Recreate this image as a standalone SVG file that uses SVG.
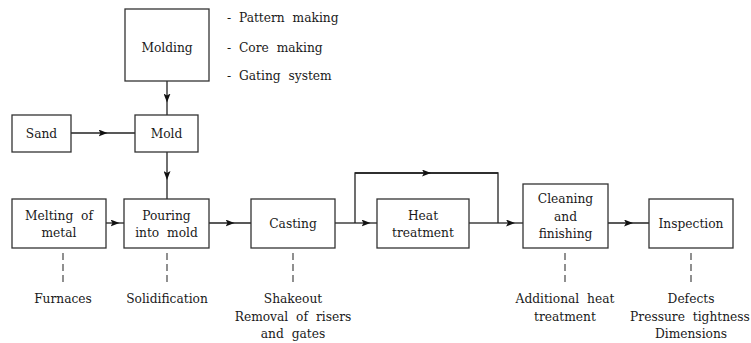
<svg xmlns="http://www.w3.org/2000/svg" width="751" height="343" viewBox="0 0 751 343">
<defs>
<style>
.box{fill:#fff;stroke:#333;stroke-width:1.3}
.ln{fill:none;stroke:#222;stroke-width:1.3}
.ar{fill:none;stroke:#222;stroke-width:1.3;marker-mid:url(#ah)}
.dash{fill:none;stroke:#555;stroke-width:1.3;stroke-dasharray:7,4}
.t{font-family:"DejaVu Serif Condensed","DejaVu Serif",serif;font-stretch:condensed;font-size:13.6px;fill:#1a1a1a;word-spacing:4px}
.c{text-anchor:middle}
</style>
<marker id="ah" viewBox="0 0 9 7" markerWidth="9" markerHeight="7" refX="4.5" refY="3.5" orient="auto" markerUnits="userSpaceOnUse">
<path d="M0,0 L9,3.5 L0,7 L2,3.5 z" fill="#111"/>
</marker>
</defs>
<rect width="751" height="343" fill="#fff"/>
<g id="connectors">
<path class="ar" d="M167,81 L167,98 L167,115"/>
<path class="ar" d="M71,133 L103,133 L135,133"/>
<path class="ar" d="M167,152 L167,175.5 L167,199"/>
<path class="ar" d="M106,223 L115,223 L124,223"/>
<path class="ar" d="M209,223 L230,223 L251,223"/>
<path class="ln" d="M335,223 L355,223"/>
<path class="ar" d="M355,223 L366,223 L377,223"/>
<path class="ln" d="M355,223 L355,173 L498,173 L498,223"/>
<path class="ar" d="M355,173 L426.5,173 L498,173"/>
<path class="ln" d="M469,223 L498,223"/>
<path class="ar" d="M498,223 L510.5,223 L523,223"/>
<path class="ar" d="M608,223 L628.5,223 L649,223"/>
<path class="dash" d="M63,253 L63,284"/>
<path class="dash" d="M167,253 L167,284"/>
<path class="dash" d="M293,253 L293,284"/>
<path class="dash" d="M565,253 L565,284"/>
<path class="dash" d="M691,253 L691,284"/>
</g>
<g class="t">
<g id="molding">
<rect class="box" x="125" y="9" width="84" height="72"/>
<text class="c" x="167" y="51.5">Molding</text>
</g>
<g id="molding-notes">
<text x="227" y="22">- Pattern making</text>
<text x="227" y="52">- Core making</text>
<text x="227" y="80">- Gating system</text>
</g>
<g id="sand">
<rect class="box" x="12" y="115" width="59" height="37"/>
<text class="c" x="41.5" y="138">Sand</text>
</g>
<g id="mold">
<rect class="box" x="135" y="115" width="63" height="37"/>
<text class="c" x="166.5" y="138">Mold</text>
</g>
<g id="melting">
<rect class="box" x="12" y="199" width="94" height="49"/>
<text class="c" x="59" y="220">Melting of</text>
<text class="c" x="59" y="237">metal</text>
<text class="c" x="63" y="303">Furnaces</text>
</g>
<g id="pouring">
<rect class="box" x="124" y="199" width="85" height="49"/>
<text class="c" x="166.5" y="220">Pouring</text>
<text class="c" x="166.5" y="237">into mold</text>
<text class="c" x="167" y="303">Solidification</text>
</g>
<g id="casting">
<rect class="box" x="251" y="199" width="84" height="49"/>
<text class="c" x="293" y="228">Casting</text>
<text class="c" x="293" y="303">Shakeout</text>
<text class="c" x="293" y="321">Removal of risers</text>
<text class="c" x="293" y="338">and gates</text>
</g>
<g id="heat">
<rect class="box" x="377" y="199" width="92" height="49"/>
<text class="c" x="423" y="220">Heat</text>
<text class="c" x="423" y="237">treatment</text>
</g>
<g id="cleaning">
<rect class="box" x="523" y="184" width="85" height="64"/>
<text class="c" x="565.5" y="203">Cleaning</text>
<text class="c" x="565.5" y="221">and</text>
<text class="c" x="565.5" y="238">finishing</text>
<text class="c" x="565" y="303">Additional heat</text>
<text class="c" x="565" y="321">treatment</text>
</g>
<g id="inspection">
<rect class="box" x="649" y="199" width="84" height="49"/>
<text class="c" x="691" y="228">Inspection</text>
<text class="c" x="691" y="303">Defects</text>
<text class="c" x="690" y="321">Pressure tightness</text>
<text class="c" x="691" y="338">Dimensions</text>
</g>
</g>
</svg>
